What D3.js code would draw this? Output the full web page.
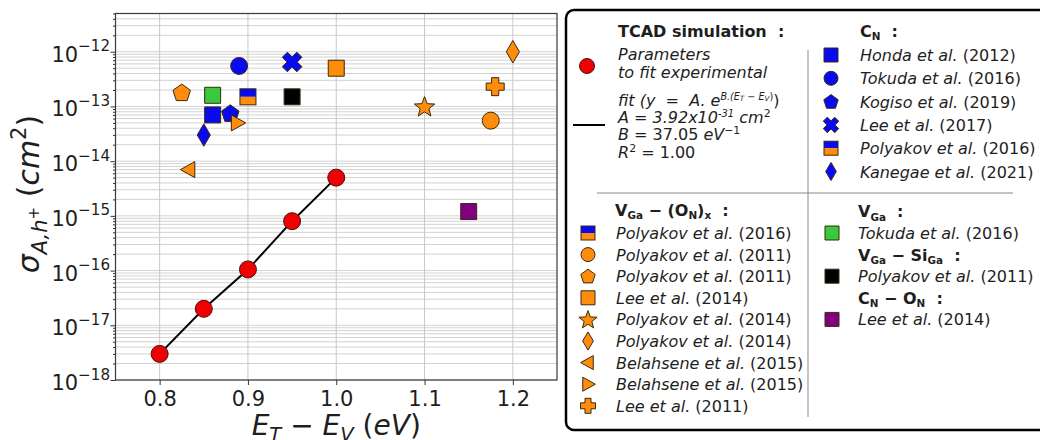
<!DOCTYPE html>
<html><head><meta charset="utf-8">
<script src="https://cdn.jsdelivr.net/npm/d3@7"></script>
<style>
body{margin:0;background:#fff}
svg{display:block}
text{font-family:"DejaVu Sans",sans-serif;fill:#1e1e1e;white-space:pre}
</style>
</head><body>
<svg id="c" width="1040" height="440"></svg>
<script>
// ---------- data ----------
const xTicks = [0.8, 0.9, 1.0, 1.1, 1.2];
const xTickLabels = ["0.8", "0.9", "1.0", "1.1", "1.2"];
const yTickExponents = [-18, -17, -16, -15, -14, -13, -12];

const fitEnergy = [0.80, 0.85, 0.90, 0.95, 1.00];
const fitSigma  = [3e-18, 2e-17, 1.05e-16, 8e-16, 5e-15];

const refAuthors = ["Honda et al.", "Tokuda et al.", "Kogiso et al.", "Lee et al.", "Polyakov et al.", "Kanegae et al.",
  "Polyakov et al.", "Polyakov et al.", "Lee et al.", "Polyakov et al.", "Polyakov et al.", "Belahsene et al.",
  "Belahsene et al.", "Lee et al.", "Tokuda et al.", "Polyakov et al.", "Lee et al."];
const refYears = ["2012", "2016", "2019", "2017", "2016", "2021",
  "2011", "2011", "2014", "2014", "2014", "2015", "2015", "2011", "2016", "2011", "2014"];
const refEnergy = [0.86, 0.89, 0.88, 0.95, 0.90, 0.85,
  1.175, 0.825, 1.00, 1.10, 1.20, 0.833, 0.888, 1.18, 0.86, 0.95, 1.15];
const refSigma = [7.0e-14, 5.5e-13, 7.5e-14, 6.5e-13, 1.5e-13, 3.0e-14,
  5.5e-14, 1.8e-13, 5.0e-13, 1.0e-13, 1.0e-12, 7.0e-15, 5.0e-14, 2.3e-13, 1.6e-13, 1.5e-13, 1.2e-15];

// legend groups (indices into the reference arrays)
const groupCN    = [0, 1, 2, 3, 4, 5];
const groupVGaON = [4, 6, 7, 8, 9, 10, 11, 12, 13];
const groupVGa   = [14];
const groupVGaSi = [15];
const groupCNON  = [16];

// ---------- styles ----------
const BLUE = "#0a0af0", ORANGE = "#ff8c0a", GREEN = "#3cc83c", PURPLE = "#800080", BLACK = "#000", RED = "#f00000";
const refStyle = [
  {shape:"square", fill:BLUE}, {shape:"circle", fill:BLUE}, {shape:"pentagon", fill:BLUE}, {shape:"x", fill:BLUE},
  {shape:"half", fill:BLUE}, {shape:"diamond", fill:BLUE},
  {shape:"circle", fill:ORANGE}, {shape:"pentagon", fill:ORANGE}, {shape:"square", fill:ORANGE}, {shape:"star", fill:ORANGE},
  {shape:"diamond", fill:ORANGE}, {shape:"triLeft", fill:ORANGE}, {shape:"triRight", fill:ORANGE}, {shape:"plus", fill:ORANGE},
  {shape:"square", fill:GREEN}, {shape:"square", fill:BLACK}, {shape:"square", fill:PURPLE}
];

const svg = d3.select("#c");
const P = {l:115.5, r:557, t:13.5, b:380};

const x = d3.scaleLinear().domain([0.75, 1.25]).range([P.l, P.r]);
const y = d3.scaleLog().domain([1e-18, 5e-12]).range([P.b, P.t]);

// ---------- helpers ----------
function rich(sel, segs, size) {
  let cur = 0;
  segs.forEach(sg => {
    const o = Object.assign({s:"n", sh:0, k:1}, sg);
    const target = o.sh * size;
    sel.append("tspan").text(o.t)
      .attr("dy", (target - cur).toFixed(2))
      .attr("font-size", (size * o.k).toFixed(2))
      .attr("font-style", o.s.includes("i") ? "italic" : "normal")
      .attr("font-weight", o.s.includes("b") ? "bold" : "normal");
    cur = target;
  });
  return sel;
}
function poly(pts) { return "M" + pts.map(p => p[0].toFixed(2) + "," + p[1].toFixed(2)).join("L") + "Z"; }
function shapePath(shape, s) {
  const r = s / 2;
  switch (shape) {
    case "circle": return d3.symbol(d3.symbolCircle, Math.PI * r * r)();
    case "square": return poly([[-r,-r],[r,-r],[r,r],[-r,r]]);
    case "pentagon": {
      const R = r * 1.08; return poly(d3.range(5).map(k => { const a = -Math.PI/2 + k * 2*Math.PI/5; return [R*Math.cos(a), R*Math.sin(a) + r*0.08]; }));
    }
    case "diamond": return poly([[0,-r*1.4],[r*0.82,0],[0,r*1.4],[-r*0.82,0]]);
    case "triLeft": return poly([[-r*1.05,0],[r*0.75,-r],[r*0.75,r]]);
    case "triRight": return poly([[r*1.05,0],[-r*0.75,-r],[-r*0.75,r]]);
    case "star": {
      const Ro = r * 1.2, Ri = Ro * 0.42;
      return poly(d3.range(10).map(k => { const a = -Math.PI/2 + k*Math.PI/5, rr = k % 2 ? Ri : Ro; return [rr*Math.cos(a), rr*Math.sin(a) + r*0.1]; }));
    }
    case "plus": {
      const a = r, w = r * 0.4;
      return poly([[-w,-a],[w,-a],[w,-w],[a,-w],[a,w],[w,w],[w,a],[-w,a],[-w,w],[-a,w],[-a,-w],[-w,-w]]);
    }
    case "x": {
      const a = r * 1.08, w = r * 0.38;
      const base = [[-w,-a],[w,-a],[w,-w],[a,-w],[a,w],[w,w],[w,a],[-w,a],[-w,w],[-a,w],[-a,-w],[-w,-w]];
      const c = Math.SQRT1_2;
      return poly(base.map(p => [c*(p[0]-p[1]), c*(p[0]+p[1])]));
    }
  }
}
function drawMarker(g, cx, cy, st, s) {
  const m = g.append("g").attr("transform", `translate(${cx},${cy})`);
  if (st.shape === "half") {
    const r = s / 2;
    m.append("rect").attr("x", -r).attr("y", -r).attr("width", s).attr("height", r).attr("fill", BLUE);
    m.append("rect").attr("x", -r).attr("y", 0).attr("width", s).attr("height", r).attr("fill", ORANGE);
    m.append("rect").attr("x", -r).attr("y", -r).attr("width", s).attr("height", s)
      .attr("fill", "none").attr("stroke", "#3a2a10").attr("stroke-width", 1);
  } else {
    m.append("path").attr("d", shapePath(st.shape, s)).attr("fill", st.fill)
      .attr("stroke", "#3a2a10").attr("stroke-width", 1).attr("stroke-linejoin", "round");
  }
  return m;
}

// ---------- grid ----------
const grid = svg.append("g");
const minorVals = [];
yTickExponents.forEach(e => { for (let k = 1; k <= 9; k++) { const v = k * Math.pow(10, e); if (v >= 1e-18 && v <= 5e-12) minorVals.push(v); } });
grid.selectAll("line.h").data(minorVals).join("line")
  .attr("x1", P.l).attr("x2", P.r)
  .attr("y1", d => y(d)).attr("y2", d => y(d))
  .attr("stroke", "#d2d2d2").attr("stroke-width", 1);
grid.selectAll("line.v").data(xTicks).join("line")
  .attr("x1", d => x(d)).attr("x2", d => x(d))
  .attr("y1", P.t).attr("y2", P.b)
  .attr("stroke", "#c8c8c8").attr("stroke-width", 1);

// ---------- axes ----------
const xAxis = svg.append("g").attr("transform", `translate(0,${P.b})`)
  .call(d3.axisBottom(x).tickValues(xTicks).tickSize(5).tickPadding(6).tickFormat((d, i) => xTickLabels[i]));
xAxis.select(".domain").remove();
xAxis.selectAll("line").attr("stroke", "#333");
xAxis.selectAll("text").attr("font-size", 21).attr("font-family", "DejaVu Sans").attr("fill", "#1e1e1e").attr("dy", "0.72em");

const majorY = yTickExponents.map(e => Math.pow(10, e));
const yAxis = svg.append("g").attr("transform", `translate(${P.l},0)`)
  .call(d3.axisLeft(y).tickValues(majorY).tickSize(5).tickFormat(""));
yAxis.select(".domain").remove();
yAxis.selectAll("line").attr("stroke", "#333");
const yMinor = svg.append("g").attr("transform", `translate(${P.l},0)`)
  .call(d3.axisLeft(y).tickValues(minorVals.filter(v => !majorY.includes(v))).tickSize(2.5).tickFormat(""));
yMinor.select(".domain").remove();
yMinor.selectAll("line").attr("stroke", "#333");

yTickExponents.forEach(e => {
  const t = svg.append("text").attr("x", 110).attr("y", y(Math.pow(10, e)) + 10).attr("text-anchor", "end");
  rich(t, [{t:"10"}, {t:"\u2212" + Math.abs(e), sh:-0.5, k:0.72}], 21);
});

svg.append("rect").attr("x", P.l).attr("y", P.t).attr("width", P.r - P.l).attr("height", P.b - P.t)
  .attr("fill", "none").attr("stroke", "#3a3a3a").attr("stroke-width", 1.2);

// axis labels
rich(svg.append("text").attr("x", (P.l + P.r) / 2).attr("y", 435).attr("text-anchor", "middle"),
  [{t:"E", s:"i"}, {t:"T", s:"i", sh:0.22, k:0.7}, {t:" \u2212 "}, {t:"E", s:"i"}, {t:"V", s:"i", sh:0.22, k:0.7},
   {t:" ("}, {t:"eV", s:"i"}, {t:")"}], 28);
rich(svg.append("text").attr("transform", "translate(39,194) rotate(-90)").attr("text-anchor", "middle"),
  [{t:"\u03c3", s:"i"}, {t:"A,h", s:"i", sh:0.25, k:0.7}, {t:"+", sh:0.0, k:0.5}, {t:" ("}, {t:"cm", s:"i"},
   {t:"2", sh:-0.42, k:0.7}, {t:")"}], 30);

// ---------- fit line & points ----------
const plot = svg.append("g");
plot.append("path").datum(fitEnergy.map((e, i) => [e, fitSigma[i]]))
  .attr("d", d3.line().x(d => x(d[0])).y(d => y(d[1])))
  .attr("fill", "none").attr("stroke", "#000").attr("stroke-width", 2);
plot.selectAll("circle.fit").data(fitEnergy.map((e, i) => [e, fitSigma[i]])).join("circle")
  .attr("cx", d => x(d[0])).attr("cy", d => y(d[1])).attr("r", 8.5)
  .attr("fill", RED).attr("stroke", "#4a1010").attr("stroke-width", 1);

const markerSize = {circle:17, square:16, half:16, pentagon:17, x:19, diamond:16, triLeft:16, triRight:16, star:18, plus:18};
refEnergy.forEach((e, i) => drawMarker(plot, x(e), y(refSigma[i]), refStyle[i], markerSize[refStyle[i].shape]));

// ---------- legend ----------
const lg = svg.append("g");
lg.append("rect").attr("x", 566).attr("y", 10).attr("width", 490).attr("height", 420).attr("rx", 8)
  .attr("fill", "#fff").attr("stroke", "#000").attr("stroke-width", 2.5);
lg.append("line").attr("x1", 597).attr("x2", 1013).attr("y1", 193).attr("y2", 193).attr("stroke", "#888").attr("stroke-width", 1);
lg.append("line").attr("x1", 808).attr("x2", 808).attr("y1", 50).attr("y2", 417).attr("stroke", "#888").attr("stroke-width", 1);

const FS = 16;
const legSize = {circle:14, square:14, half:14, pentagon:14, x:15, diamond:13, triLeft:14, triRight:14, star:16, plus:15};
function entry(idx, mx, tx, cy) {
  drawMarker(lg, mx, cy, refStyle[idx], legSize[refStyle[idx].shape]);
  rich(lg.append("text").attr("x", tx).attr("y", cy + 6), [{t:refAuthors[idx], s:"i"}, {t:" (" + refYears[idx] + ")"}], FS);
}
function header(tx, cy, segs) { rich(lg.append("text").attr("x", tx).attr("y", cy + 6), segs, FS); }

// TCAD block
header(618, 31, [{t:"TCAD simulation  :", s:"b"}]);
lg.append("circle").attr("cx", 587).attr("cy", 66).attr("r", 7.5).attr("fill", RED).attr("stroke", "#4a1010").attr("stroke-width", 1);
rich(lg.append("text").attr("x", 618).attr("y", 60), [{t:"Parameters", s:"i"}], FS);
rich(lg.append("text").attr("x", 618).attr("y", 78), [{t:"to fit experimental", s:"i"}], FS);
lg.append("line").attr("x1", 573).attr("x2", 605).attr("y1", 125).attr("y2", 125).attr("stroke", "#000").attr("stroke-width", 2);
rich(lg.append("text").attr("x", 618).attr("y", 106),
  [{t:"fit (", s:"i"}, {t:"y  =  A", s:"i"}, {t:". e", s:"i"}, {t:"B.(E", s:"i", sh:-0.4, k:0.6},
   {t:"T", s:"i", sh:-0.3, k:0.45}, {t:" \u2212 E", s:"i", sh:-0.4, k:0.6}, {t:"V", s:"i", sh:-0.3, k:0.45},
   {t:")", sh:-0.4, k:0.6}, {t:")"}], FS);
rich(lg.append("text").attr("x", 618).attr("y", 123),
  [{t:"A = 3.92x10", s:"i"}, {t:"-31", s:"i", sh:-0.36, k:0.62}, {t:" cm", s:"i"}, {t:"2", sh:-0.38, k:0.68}], FS);
rich(lg.append("text").attr("x", 618).attr("y", 140),
  [{t:"B", s:"i"}, {t:" = 37.05 "}, {t:"eV", s:"i"}, {t:"\u22121", sh:-0.38, k:0.68}], FS);
rich(lg.append("text").attr("x", 618).attr("y", 158),
  [{t:"R", s:"i"}, {t:"2", sh:-0.38, k:0.68}, {t:" = 1.00"}], FS);

// C_N block
header(860, 31, [{t:"C", s:"b"}, {t:"N", s:"b", sh:0.2, k:0.65}, {t:"  :", s:"b"}]);
groupCN.forEach((idx, k) => entry(idx, 831, 860, 55 + k * 23.3));

// V_Ga-(O_N)x block
header(615, 210, [{t:"V", s:"b"}, {t:"Ga", s:"b", sh:0.2, k:0.65}, {t:" \u2212 (O", s:"b"}, {t:"N", s:"b", sh:0.2, k:0.65},
  {t:")", s:"b"}, {t:"x", s:"b", sh:0.2, k:0.65}, {t:"  :", s:"b"}]);
groupVGaON.forEach((idx, k) => entry(idx, 588, 616, 233 + k * 21.6));

// right-bottom blocks
header(858, 211.4, [{t:"V", s:"b"}, {t:"Ga", s:"b", sh:0.2, k:0.65}, {t:"  :", s:"b"}]);
groupVGa.forEach((idx, k) => entry(idx, 832, 858, 233 + k * 21.6));
header(858, 254.6, [{t:"V", s:"b"}, {t:"Ga", s:"b", sh:0.2, k:0.65}, {t:" \u2212 Si", s:"b"}, {t:"Ga", s:"b", sh:0.2, k:0.65}, {t:"  :", s:"b"}]);
groupVGaSi.forEach((idx, k) => entry(idx, 832, 858, 276.2 + k * 21.6));
header(858, 297.8, [{t:"C", s:"b"}, {t:"N", s:"b", sh:0.2, k:0.65}, {t:" \u2212 O", s:"b"}, {t:"N", s:"b", sh:0.2, k:0.65}, {t:"  :", s:"b"}]);
groupCNON.forEach((idx, k) => entry(idx, 832, 858, 319.4 + k * 21.6));
</script>
</body></html>
